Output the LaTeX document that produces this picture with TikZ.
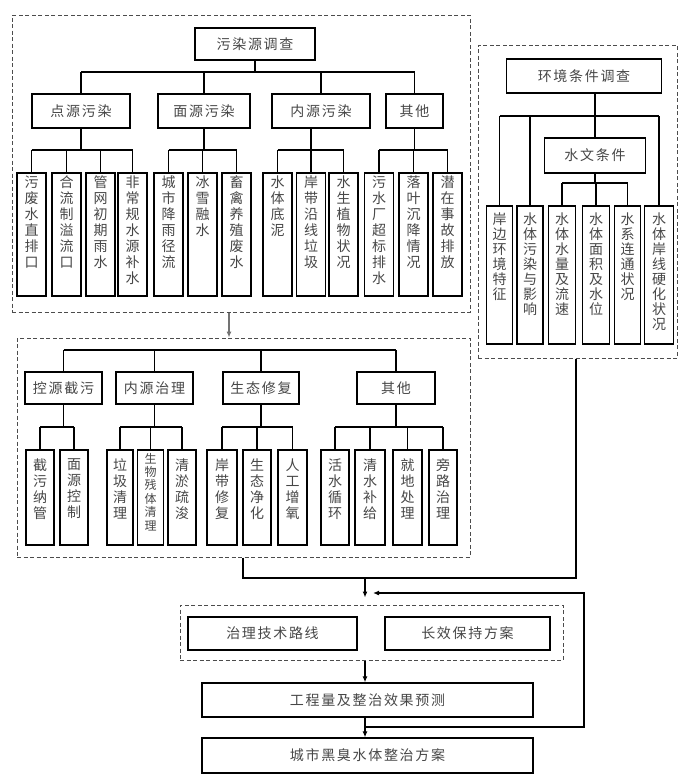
\documentclass[tikz,border=0pt]{standalone}
\usepackage{fontspec}
\setmainfont{Noto Sans CJK SC}
\newfontfamily\hfont[LetterSpace=12]{Noto Sans CJK SC}
\usetikzlibrary{arrows.meta}
\definecolor{txt}{gray}{0.28}
\def\vtaux#1{\ifx\relax#1\else#1\par\expandafter\vtaux\fi}
\newcommand\vt[5]{\parbox[c][#1pt][t]{20pt}{\centering\fontsize{#2pt}{#3pt}\selectfont\vspace*{#4pt}\vtaux#5\relax}}
\newcommand\va[1]{\vt{121}{14}{16}{2}{#1}}
\newcommand\ve[1]{\vt{136}{14}{15}{6}{#1}}
\newcommand\vl[1]{\vt{93}{14}{16}{8}{#1}}
\newcommand\vls[1]{\vt{93}{12}{13.4}{2}{#1}}
\tikzset{
  hb/.style 2 args={draw, line width=1.3pt, inner sep=0pt, minimum width=#1, minimum height=#2,
    text=txt, font=\hfont\fontsize{14pt}{16pt}\selectfont},
  vb/.style 2 args={draw, line width=1.3pt, inner sep=0pt, minimum width=#1, minimum height=#2, text=txt},
  dbox/.style 2 args={draw=black!70, dashed, dash pattern=on 4pt off 2.5pt, line width=1pt,
    inner sep=0pt, minimum width=#1, minimum height=#2},
  conn/.style={line width=1.2pt, draw=black},
  arr/.style={-{Latex[length=6pt,width=5pt]}}
}
\begin{document}
\begin{tikzpicture}[x=1pt,y=-1pt]
\fill[white] (0,0) rectangle (679,774);
\useasboundingbox (0,0) rectangle (679,774);

% ---------- dashed group boxes ----------
\node[dbox={458}{297}] (D1) at (241,163.5) {};
\node[dbox={199}{313}] (envD) at (577.5,201.5) {};
\node[dbox={453}{219}] (D2) at (243.5,447.5) {};
\node[dbox={383}{55}] (D3) at (371.5,632.5) {};

% ---------- pollution source survey ----------
\node[hb={120}{32}] (src) at (255,44) {污染源调查};
\node[hb={98}{34}] (p1) at (81,111) {点源污染};
\node[hb={92}{34}] (p2) at (204,111) {面源污染};
\node[hb={98}{34}] (p3) at (321,111) {内源污染};
\node[hb={57}{34}] (p4) at (414.5,111) {其他};

\node[vb={29}{123}] (a1) at (31.5,234.5) {\va{污废水直排口}};
\node[vb={29}{123}] (a2) at (66.5,234.5) {\va{合流制溢流口}};
\node[vb={29}{123}] (a3) at (100.5,234.5) {\va{管网初期雨水}};
\node[vb={29}{123}] (a4) at (132.5,234.5) {\va{非常规水源补水}};
\node[vb={29}{123}] (b1) at (168.5,234.5) {\va{城市降雨径流}};
\node[vb={29}{123}] (b2) at (202.5,234.5) {\va{冰雪融水}};
\node[vb={29}{123}] (b3) at (236.5,234.5) {\va{畜禽养殖废水}};
\node[vb={29}{123}] (c1) at (277.5,234.5) {\va{水体底泥}};
\node[vb={29}{123}] (c2) at (311,234.5) {\va{岸带沿线垃圾}};
\node[vb={29}{123}] (c3) at (343.5,234.5) {\va{水生植物状况}};
\node[vb={29}{123}] (d1) at (379,234.5) {\va{污水厂超标排水}};
\node[vb={29}{123}] (d2) at (413.5,234.5) {\va{落叶沉降情况}};
\node[vb={29}{123}] (d3) at (447.5,234.5) {\va{潜在事故排放}};

\coordinate (y1) at (0,72);
\coordinate (y2) at (0,150);
\draw[conn] (src.south) -- (src.south |- y1);
\draw[conn] (p1.north |- y1) -- (p4.north |- y1);
\foreach \n in {p1,p2,p3,p4} \draw[conn] (\n.north) -- (\n.north |- y1);

\draw[conn] (p1.south) -- (p1.south |- y2);
\draw[conn] (a1.north |- y2) -- (a4.north |- y2);
\foreach \n in {a1,a2,a3,a4} \draw[conn] (\n.north) -- (\n.north |- y2);
\draw[conn] (p2.south) -- (p2.south |- y2);
\draw[conn] (b1.north |- y2) -- (b3.north |- y2);
\foreach \n in {b1,b2,b3} \draw[conn] (\n.north) -- (\n.north |- y2);
\draw[conn] (p3.south -| c2.north) -- (c2.north);
\draw[conn] (c1.north |- y2) -- (c3.north |- y2);
\foreach \n in {c1,c3} \draw[conn] (\n.north) -- (\n.north |- y2);
\draw[conn] (p4.south) -- (p4.south |- y2);
\draw[conn] (d1.north |- y2) -- (d3.north |- y2);
\foreach \n in {d1,d2,d3} \draw[conn] (\n.north) -- (\n.north |- y2);

% ---------- environment survey ----------
\node[hb={155}{34}] (env) at (584,76) {环境条件调查};
\node[hb={101}{35}] (hyd) at (595,155.5) {水文条件};
\node[vb={26}{138}] (e1) at (499.5,275) {\ve{岸边环境特征}};
\node[vb={26}{138}] (e2) at (530,275) {\ve{水体污染与影响}};
\node[vb={27}{138}] (e3) at (562,275) {\ve{水体水量及流速}};
\node[vb={27}{138}] (e4) at (596,275) {\ve{水体面积及水位}};
\node[vb={26}{138}] (e5) at (627.5,275) {\ve{水系连通状况}};
\node[vb={29}{138}] (e6) at (659,275) {\ve{水体岸线硬化状况}};

\coordinate (y3) at (0,116);
\coordinate (y4) at (0,183);
\draw[conn] (hyd.north) -- (hyd.north |- env.south);
\draw[conn] (e1.north |- y3) -- (e6.north |- y3);
\foreach \n in {e1,e2,e6} \draw[conn] (\n.north) -- (\n.north |- y3);
\draw[conn] (hyd.south) -- (hyd.south |- y4);
\draw[conn] (e3.north |- y4) -- (e5.north |- y4);
\foreach \n in {e3,e4,e5} \draw[conn] (\n.north) -- (\n.north |- y4);

% ---------- remediation measures ----------
\node[hb={77}{32}] (q1) at (63.5,388) {控源截污};
\node[hb={77}{32}] (q2) at (154.5,388) {内源治理};
\node[hb={76}{32}] (q3) at (261,388) {生态修复};
\node[hb={78}{32}] (q4) at (396,388) {其他};

\node[vb={28}{95}] (r1) at (40,497.5) {\vl{截污纳管}};
\node[vb={28}{95}] (r2) at (74,497.5) {\vl{面源控制}};
\node[vb={26}{95}] (s1) at (120,497.5) {\vl{垃圾清理}};
\node[vb={26}{95}] (s2) at (150.5,497.5) {\vls{生物残体清理}};
\node[vb={28}{95}] (s3) at (182,497.5) {\vl{清淤疏浚}};
\node[vb={30}{95}] (t1) at (222,497.5) {\vl{岸带修复}};
\node[vb={28}{95}] (t2) at (257,497.5) {\vl{生态净化}};
\node[vb={29}{95}] (t3) at (292.5,497.5) {\vl{人工增氧}};
\node[vb={28}{95}] (u1) at (335,497.5) {\vl{活水循环}};
\node[vb={30}{95}] (u2) at (370,497.5) {\vl{清水补给}};
\node[vb={29}{95}] (u3) at (407.5,497.5) {\vl{就地处理}};
\node[vb={28}{95}] (u4) at (443,497.5) {\vl{旁路治理}};

\coordinate (y5) at (0,350);
\coordinate (y6) at (0,427);
\draw[conn] (q1.north |- y5) -- (q4.north |- y5);
\foreach \n in {q1,q2,q3,q4} \draw[conn] (\n.north) -- (\n.north |- y5);
\draw[conn] (q1.south) -- (q1.south |- y6);
\draw[conn] (r1.north |- y6) -- (r2.north |- y6);
\foreach \n in {r1,r2} \draw[conn] (\n.north) -- (\n.north |- y6);
\draw[conn] (q2.south) -- (q2.south |- y6);
\draw[conn] (s1.north |- y6) -- (s3.north |- y6);
\foreach \n in {s1,s2,s3} \draw[conn] (\n.north) -- (\n.north |- y6);
\draw[conn] (q3.south) -- (q3.south |- y6);
\draw[conn] (t1.north |- y6) -- (t3.north |- y6);
\foreach \n in {t1,t2,t3} \draw[conn] (\n.north) -- (\n.north |- y6);
\draw[conn] (q4.south) -- (q4.south |- y6);
\draw[conn] (u1.north |- y6) -- (u4.north |- y6);
\foreach \n in {u1,u2,u3,u4} \draw[conn] (\n.north) -- (\n.north |- y6);

% arrow between the two left groups
\coordinate (ax) at (229,0);
\draw[line width=1.1pt, draw=black!55, arr] (D1.south -| ax) -- (D2.north -| ax);

% ---------- final plan ----------
\node[hb={169}{33}] (tech) at (272.5,633.5) {治理技术路线};
\node[hb={165}{33}] (keep) at (467.5,633.5) {长效保持方案};
\node[hb={331}{34}] (eng) at (367.5,700) {工程量及整治效果预测};
\node[hb={331}{35}] (city) at (367.5,755.5) {城市黑臭水体整治方案};

\coordinate (jl) at (243,578);
\coordinate (jr) at (576,578);
\coordinate (jm) at (365,578);
\draw[conn] (D2.south -| jl) -- (jl) -- (jr) -- (envD.south -| jr);
\draw[conn, arr, shorten >=7pt] (jm) -- (D3.north -| jm);
\draw[conn, arr] (D3.south -| jm) -- (eng.north -| jm);
\draw[conn, arr] (eng.south -| jm) -- (city.north -| jm);

\coordinate (fb0) at (365,727);
\coordinate (fbr) at (584,727);
\coordinate (fbt) at (584,593);
\coordinate (fbe) at (373,593);
\draw[conn, arr] (fb0) -- (fbr) -- (fbt) -- (fbe);
\end{tikzpicture}
\end{document}
